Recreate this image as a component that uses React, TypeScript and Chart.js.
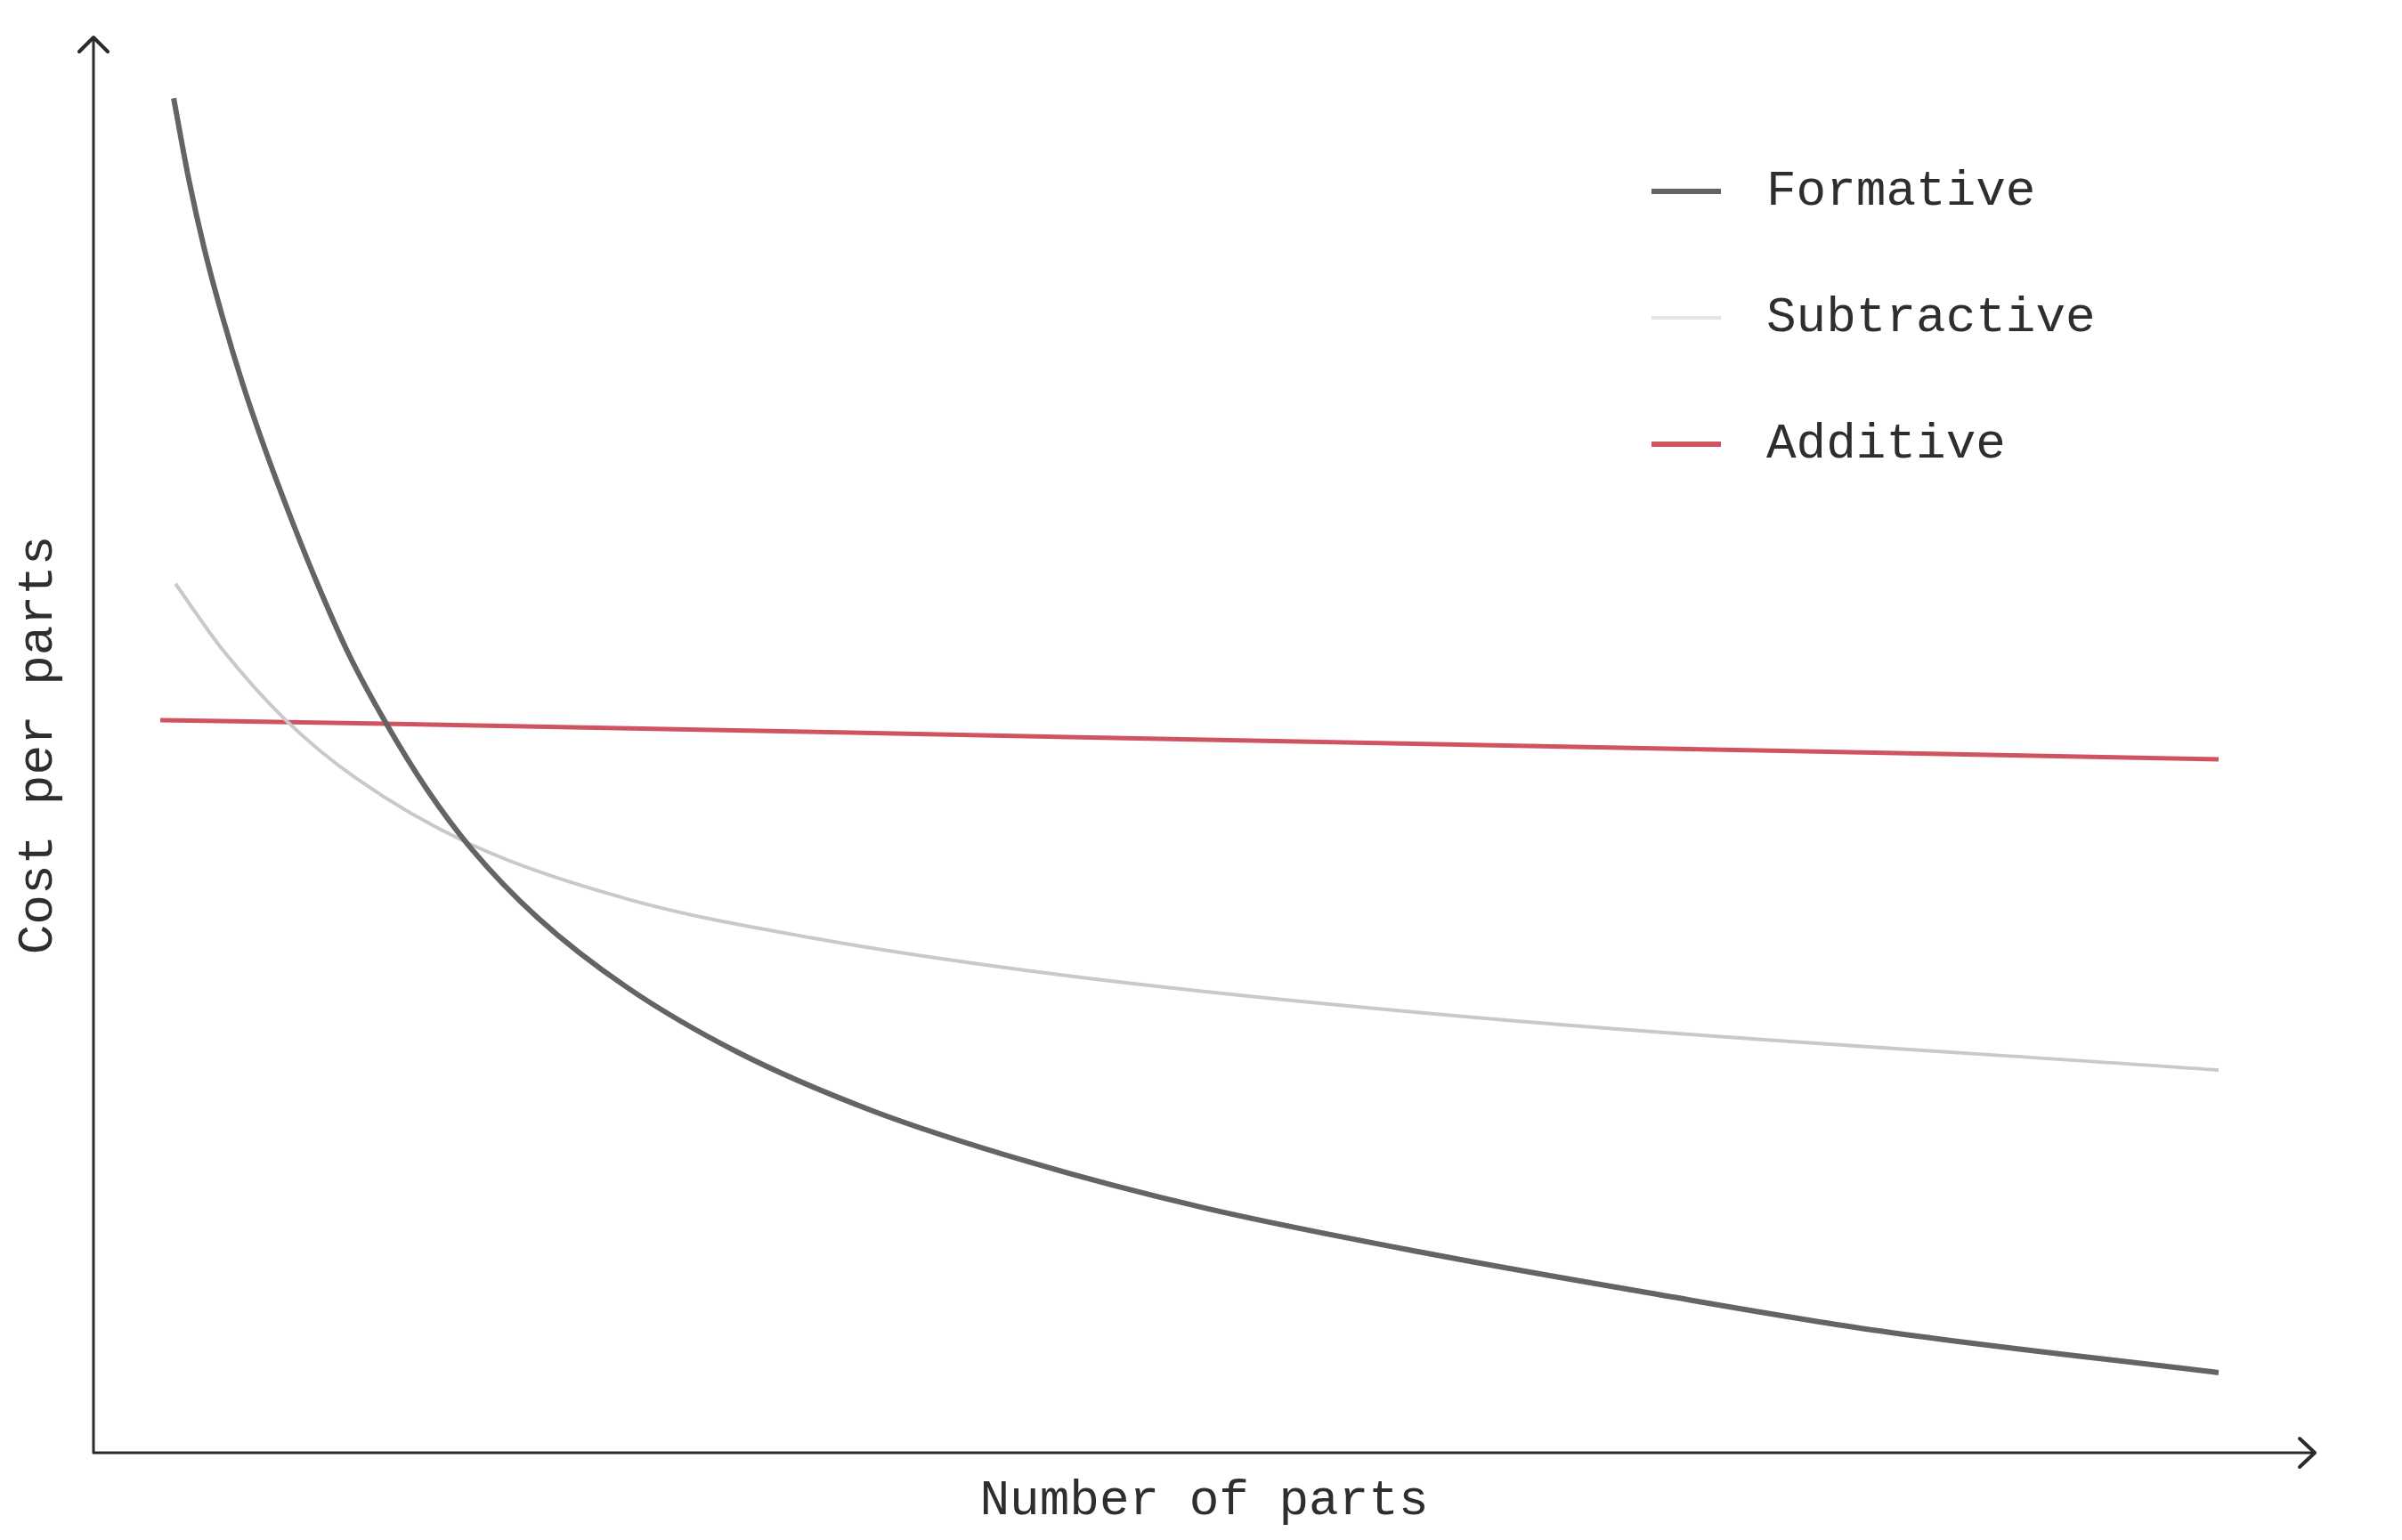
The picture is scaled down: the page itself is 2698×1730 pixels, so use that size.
import React, { useEffect, useRef } from "react";
import { Chart, registerables } from "chart.js";

Chart.register(...registerables);

// ---- Data (abstract units 0–100 on both axes) ----
const seriesLabels = ["Formative", "Subtractive", "Additive"];

const formativeX = [3.61, 4.3, 5.0, 5.8, 6.7, 7.7, 8.8, 10.0, 11.5, 13.15, 15.0, 17.0, 20.0, 24.0, 29.0, 35.0, 42.0, 50.0, 60.0, 70.0, 80.0, 95.67];
const formativeY = [95.7, 89.9, 85.0, 80.3, 75.6, 71.0, 66.4, 61.7, 56.4, 51.6, 46.9, 42.7, 37.8, 32.9, 28.3, 24.2, 20.6, 17.3, 14.1, 11.3, 8.7, 5.66];

const subtractiveX = [3.69, 5.81, 8.62, 11.82, 16.83, 24.09, 32.26, 43.89, 63.37, 95.67];
const subtractiveY = [61.4, 56.74, 51.82, 47.66, 43.1, 39.1, 36.4, 33.7, 30.6, 27.04];

const additiveX = [3.01, 13.11, 43.89, 95.67];
const additiveY = [51.76, 51.51, 50.57, 48.99];

const xAxisTitle = "Number of parts";
const yAxisTitle = "Cost per parts";

const lineColors = ["#646464", "#c9c9c9", "#cf5460"];
const legendSwatchColors = ["#646464", "#e4e4e4", "#cf5460"];

const FONT_FAMILY = "'Liberation Mono', 'DejaVu Sans Mono', monospace";
const TEXT_COLOR = "#2e2e2e";

const toPoints = (xs: number[], ys: number[]) => xs.map((x, i) => ({ x, y: ys[i] }));

const axesArrowPlugin = {
  id: "axesArrows",
  beforeDatasetsDraw(chart: any) {
    const { ctx, chartArea } = chart;
    const { left, right, top, bottom } = chartArea;
    ctx.save();
    ctx.strokeStyle = "#2a2a2a";
    ctx.lineWidth = 3;
    ctx.lineCap = "round";
    ctx.lineJoin = "round";
    ctx.beginPath();
    ctx.moveTo(left, bottom);
    ctx.lineTo(left, top);
    ctx.moveTo(left, bottom);
    ctx.lineTo(right, bottom);
    ctx.stroke();
    ctx.lineWidth = 4;
    ctx.beginPath();
    ctx.moveTo(left - 16, top + 16);
    ctx.lineTo(left, top);
    ctx.lineTo(left + 16, top + 16);
    ctx.stroke();
    ctx.beginPath();
    ctx.moveTo(right - 17, bottom - 16);
    ctx.lineTo(right, bottom);
    ctx.lineTo(right - 17, bottom + 16);
    ctx.stroke();
    ctx.restore();
  },
};

const sideLegendPlugin = {
  id: "sideLegend",
  afterDraw(chart: any, _args: any, opts: any) {
    const { ctx } = chart;
    ctx.save();
    chart.data.datasets.forEach((ds: any, i: number) => {
      const y = opts.y + i * opts.rowGap;
      ctx.strokeStyle = opts.swatchColors[i];
      ctx.lineWidth = opts.swatchWidths[i];
      ctx.lineCap = "butt";
      ctx.beginPath();
      ctx.moveTo(opts.x, y);
      ctx.lineTo(opts.x + opts.swatchLength, y);
      ctx.stroke();
      ctx.fillStyle = opts.color;
      ctx.font = opts.font;
      ctx.textBaseline = "middle";
      ctx.textAlign = "left";
      ctx.fillText(ds.label, opts.textX, y + opts.textOffset);
    });
    ctx.restore();
  },
};

export default function App() {
  const canvasRef = useRef<HTMLCanvasElement | null>(null);

  useEffect(() => {
    const canvas = canvasRef.current;
    if (!canvas) return;
    const chart = new Chart(canvas, {
      type: "line",
      data: {
        datasets: [
          {
            label: seriesLabels[0],
            data: toPoints(formativeX, formativeY),
            borderColor: lineColors[0],
            borderWidth: 6,
            pointRadius: 0,
            cubicInterpolationMode: "monotone",
            fill: false,
          },
          {
            label: seriesLabels[1],
            data: toPoints(subtractiveX, subtractiveY),
            borderColor: lineColors[1],
            borderWidth: 4,
            pointRadius: 0,
            cubicInterpolationMode: "monotone",
            fill: false,
          },
          {
            label: seriesLabels[2],
            data: toPoints(additiveX, additiveY),
            borderColor: lineColors[2],
            borderWidth: 5,
            pointRadius: 0,
            cubicInterpolationMode: "monotone",
            fill: false,
          },
        ],
      },
      options: {
        responsive: false,
        animation: false,
        devicePixelRatio: 1,
        layout: {
          autoPadding: false,
          padding: { left: 0, right: 98, top: 42, bottom: 0 },
        },
        plugins: {
          legend: { display: false },
          tooltip: { enabled: false },
          sideLegend: {
            x: 1855,
            textX: 1984,
            y: 215,
            rowGap: 142,
            swatchLength: 78,
            swatchWidths: [6, 4, 6],
            swatchColors: legendSwatchColors,
            textOffset: 0,
            color: TEXT_COLOR,
            font: `56px ${FONT_FAMILY}`,
          },
        } as any,
        scales: {
          x: {
            type: "linear",
            min: 0,
            max: 100,
            grid: { display: false, drawTicks: false },
            border: { display: false },
            ticks: { display: false },
            title: {
              display: true,
              text: xAxisTitle,
              color: TEXT_COLOR,
              font: { family: FONT_FAMILY, size: 56, lineHeight: 1.2 },
              padding: { top: 20.4, bottom: 10.4 },
            },
          },
          y: {
            type: "linear",
            min: 0,
            max: 100,
            grid: { display: false, drawTicks: false },
            border: { display: false },
            ticks: { display: false },
            title: {
              display: true,
              text: yAxisTitle,
              color: TEXT_COLOR,
              font: { family: FONT_FAMILY, size: 56, lineHeight: 1.2 },
              padding: { top: 9.4, bottom: 28.4 },
            },
          },
        },
      },
      plugins: [axesArrowPlugin, sideLegendPlugin],
    });
    return () => chart.destroy();
  }, []);

  return (
    <div style={{ position: "absolute", left: 0, top: 0, width: 2698, height: 1730, background: "#ffffff" }}>
      <canvas ref={canvasRef} width={2698} height={1730} style={{ display: "block" }} />
    </div>
  );
}
